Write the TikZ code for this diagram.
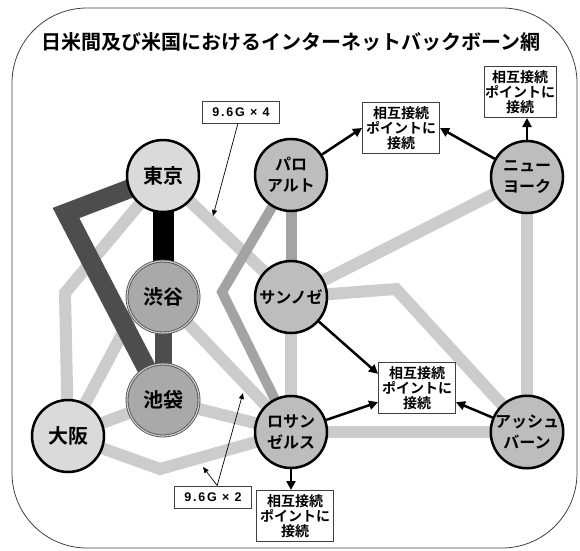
\documentclass[tikz,border=0pt]{standalone}
\usepackage{fontspec}
\usetikzlibrary{arrows.meta,backgrounds}
\newfontfamily\jpfont{Noto Sans CJK JP}[BoldFont={Noto Sans CJK JP Bold}]
\newfontfamily\lblfont{Liberation Sans}[LetterSpace=14]
\definecolor{lgray}{HTML}{CCCCCC}
\definecolor{mgray}{HTML}{A3A3A3}
\definecolor{dgray}{HTML}{4D4D4D}
\definecolor{jpfill}{HTML}{DADADA}
\definecolor{usfill}{HTML}{BDBDBD}
\definecolor{hubfill}{HTML}{A9A9A9}

\begin{document}
\begin{tikzpicture}[x=1pt,y=-1pt,
  city/.style={circle,draw=black,line width=2.5pt,minimum size=72pt,inner sep=0pt,
    font=\jpfont\bfseries\fontsize{20}{22}\selectfont},
  jp/.style={city,fill=jpfill},
  hub/.style={city,fill=hubfill,draw=dgray,line width=0.8pt,double=lgray,double distance=1.2pt},
  us/.style={city,fill=usfill,align=center,font=\jpfont\bfseries\fontsize{16}{21}\selectfont},
  ixbox/.style={draw=black!75,line width=1pt,fill=white,align=center,inner sep=1pt,
    minimum width=77pt,minimum height=51pt,font=\jpfont\bfseries\fontsize{14}{15}\selectfont},
  lbl/.style={draw=black!75,line width=1pt,fill=white,minimum width=77pt,minimum height=22pt,
    inner sep=1pt,font=\lblfont\bfseries\fontsize{12.5}{14}\selectfont},
  lightlink/.style={line width=12pt,color=lgray},
  medlink/.style={line width=11pt,color=mgray},
  link/.style={-{Triangle[length=9pt,width=9pt]},line width=2.5pt},
  pointer/.style={-{Triangle[length=6pt,width=5pt]},line width=0.7pt}
]
\useasboundingbox (0,0) rectangle (580,550);
\draw[black!75,line width=0.8pt,rounded corners=75pt] (12,8) rectangle (577,548);

\node[font=\jpfont\bfseries\fontsize{20}{24}\selectfont] (title) at (291,42)
  {日米間及び米国におけるインターネットバックボーン網};

% cities
\node[jp]  (tyo) at (163,176) {東京};
\node[hub] (sby) at (163,297) {渋谷};
\node[hub] (ikb) at (163,400) {池袋};
\node[jp]  (osk) at (68,436)  {大阪};
\node[us]  (pa)  at (291,175) {パロ\\アルト};
\node[us]  (sj)  at (291,297) {サンノゼ};
\node[us]  (la)  at (291,432) {ロサン\\ゼルス};
\node[us]  (ny)  at (527,177) {ニュー\\ヨーク};
\node[us]  (ab)  at (527,432) {アッシュ\\バーン};

% interconnection points
\node[ixbox] (ix1) at (401,128) {相互接続\\ポイントに\\接続};
\node[ixbox,minimum width=72pt] (ix2) at (520,92) {相互接続\\ポイントに\\接続};
\node[ixbox] (ix3) at (417,388) {相互接続\\ポイントに\\接続};
\node[ixbox] (ix4) at (295,516) {相互接続\\ポイントに\\接続};

\node[lbl] (lab4) at (241,112) {9.6G × 4};
\node[lbl] (lab2) at (213,497) {9.6G × 2};

% bends
\coordinate (c1) at (66,213);
\coordinate (c2) at (65,293);
\coordinate (c3) at (160,469);
\coordinate (c4) at (222,292);
\coordinate (c5) at (396,289);
\coordinate (c6) at (139,302);
\coordinate (p4)  at (213,216);
\coordinate (p2a) at (243,393);
\coordinate (p2b) at (203,467);

\begin{scope}[on background layer]
\foreach \a/\b in {tyo/sj,sby/la,ikb/la,osk/ikb,sj/la,sj/ny,ny/ab,la/ab}
  \draw[lightlink] (\a.center) -- (\b.center);
\draw[lightlink] (tyo.center) -- (c2) -- (osk.center);
\draw[lightlink] (osk.center) -- (c3) -- (la.center);
\draw[lightlink] (sj.center) -- (c5) -- (ab.center);
\draw[lightlink] (c6) -- (osk.center);
\draw[medlink] (pa.center) -- (sj.center);
\draw[medlink,line width=10pt] (pa.center) -- (c4) -- (la.center);
\draw[dgray,line width=19pt] (tyo.center) -- (c1) -- (ikb.center);
\draw[dgray,line width=17pt] (sby.center) -- (ikb.center);
\draw[black,line width=21pt] (tyo.center) -- (sby.center);
\end{scope}

\draw[link] (pa) -- (ix1.west);
\draw[link] (ny) -- (ix1.east);
\draw[link] (ny) -- (ny |- ix2.south);
\draw[link] (sj) -- (ix3.160);
\draw[link] (la) -- (ix3.200);
\draw[link] (ab) -- (ix3.-20);
\draw[link] (la) -- (la |- ix4.north);

\draw[pointer] (lab4) -- (p4);
\draw[pointer] (lab2.70) -- (p2a);
\draw[pointer] (lab2.70) -- (p2b);
\end{tikzpicture}
\end{document}
